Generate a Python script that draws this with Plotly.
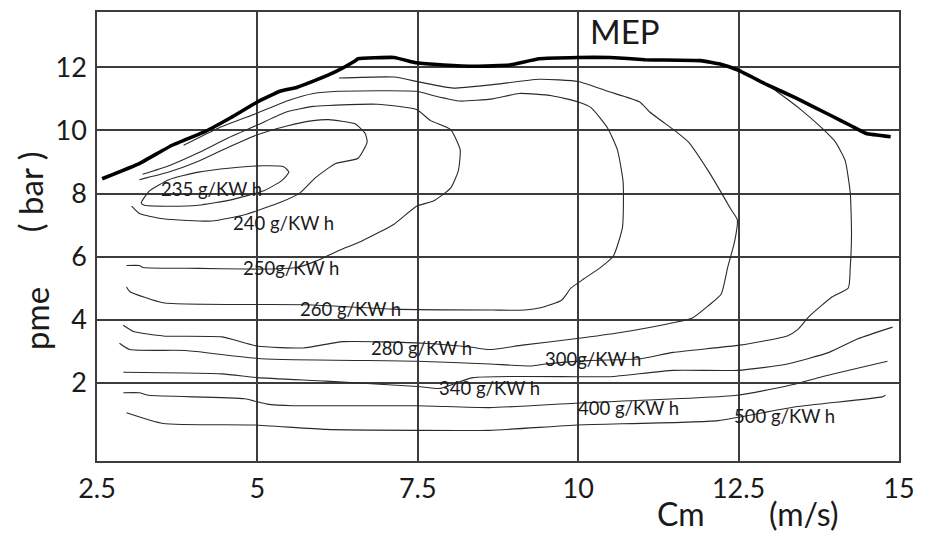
import plotly.graph_objects as go

# ---------------- data ----------------
mep_x = [2.58, 3.16, 3.67, 4.19, 4.59, 5.0, 5.35, 5.61, 5.91, 6.22, 6.52, 6.57, 7.13, 7.48, 7.90,
         8.40, 8.93, 9.39, 10.0, 10.5, 11.04, 11.91, 12.21, 12.5, 12.94, 13.39, 13.93, 14.26, 14.49, 14.87]
mep_y = [8.47, 8.95, 9.53, 9.97, 10.41, 10.90, 11.24, 11.36, 11.59, 11.86, 12.20, 12.27, 12.31, 12.14, 12.07,
         12.03, 12.07, 12.27, 12.31, 12.31, 12.24, 12.21, 12.10, 11.90, 11.45, 11.03, 10.48, 10.14, 9.90, 9.80]

c235_x = [3.19, 3.31, 3.62, 4.08, 4.59, 5.08, 5.41, 5.49, 5.38, 5.11, 4.59, 4.08, 3.57, 3.24, 3.19]
c235_y = [7.70, 8.07, 8.44, 8.68, 8.81, 8.88, 8.85, 8.68, 8.41, 8.10, 7.80, 7.63, 7.60, 7.63, 7.70]

c240_x = [3.16, 3.62, 4.08, 4.54, 5.0, 5.46, 5.87, 6.11, 6.52, 6.68, 6.71, 6.57, 6.22, 5.91, 5.67,
          5.37, 4.80, 4.29, 3.53, 3.16, 3.04]
c240_y = [8.44, 8.68, 9.02, 9.46, 9.86, 10.14, 10.31, 10.34, 10.21, 9.90, 9.63, 9.12, 8.95, 8.51, 8.03,
          7.73, 7.33, 7.13, 7.20, 7.37, 7.60]

c250_x = [3.21, 3.62, 4.08, 4.54, 5.0, 5.46, 5.87, 6.11, 6.87, 7.48, 7.70, 8.01, 8.16, 8.13, 8.01,
          7.75, 7.48, 7.13, 6.63, 6.27, 5.91, 5.61, 5.15, 4.80, 4.08, 3.22, 3.16, 2.96]
c250_y = [8.61, 8.88, 9.29, 9.76, 10.17, 10.59, 10.76, 10.79, 10.83, 10.66, 10.31, 10.03, 9.39, 8.71, 8.17,
          7.77, 7.60, 7.03, 6.50, 6.20, 5.86, 5.66, 5.61, 5.61, 5.63, 5.66, 5.72, 5.72]

c260_x = [3.85, 4.39, 5.0, 5.46, 5.87, 6.27, 7.48, 7.75, 8.16, 8.67, 9.08, 9.59, 10.0, 10.2, 10.46,
          10.61, 10.70, 10.69, 10.55, 10.35, 10.09, 9.89, 9.74, 9.43, 9.17, 8.67, 7.13, 5.76, 3.53, 3.01, 2.96]
c260_y = [9.53, 10.07, 10.55, 10.93, 11.17, 11.24, 11.24, 11.10, 10.93, 11.0, 11.17, 11.10, 10.90, 10.72, 10.07,
          9.39, 8.37, 6.93, 6.03, 5.66, 5.30, 5.01, 4.62, 4.39, 4.31, 4.31, 4.34, 4.48, 4.54, 4.90, 5.04]

c280_x = [6.27, 7.13, 7.55, 8.05, 8.67, 9.39, 10.0, 10.46, 10.96, 11.11, 11.52, 11.72, 12.03, 12.23, 12.38,
          12.48, 12.44, 12.33, 12.23, 12.03, 11.78, 11.48, 10.66, 9.95, 9.13, 8.62, 8.31, 7.59, 6.33, 5.72,
          5.0, 4.45, 3.53, 3.07, 2.91]
c280_y = [11.66, 11.69, 11.52, 11.34, 11.45, 11.62, 11.55, 11.24, 10.90, 10.59, 9.97, 9.63, 8.71, 8.03, 7.50,
          7.17, 6.50, 5.66, 4.82, 4.45, 4.06, 3.91, 3.60, 3.40, 3.20, 3.06, 3.14, 3.26, 3.31, 3.11,
          3.17, 3.46, 3.49, 3.63, 3.83]

c300_x = [12.89, 13.09, 13.47, 13.80, 14.01, 14.16, 14.24, 14.26, 14.24, 14.21, 13.96, 13.60, 13.42, 13.26,
          12.52, 11.48, 10.96, 10.15, 9.49, 9.28, 8.62, 7.5, 5.06, 3.88, 3.01, 2.85]
c300_y = [11.52, 11.24, 10.66, 10.07, 9.63, 9.05, 8.03, 6.70, 5.66, 5.01, 4.73, 4.11, 3.69, 3.49,
          3.20, 2.97, 2.77, 2.71, 2.60, 2.54, 2.60, 2.69, 2.77, 3.03, 3.06, 3.26]

c340_x = [2.91, 4.45, 5.0, 6.07, 7.5, 7.85, 8.36, 10.0, 10.5, 11.48, 12.49, 13.26, 13.91, 14.36, 14.90]
c340_y = [2.34, 2.29, 2.17, 2.06, 1.89, 1.83, 2.17, 2.20, 2.20, 2.40, 2.40, 2.60, 2.97, 3.40, 3.77]

c400_x = [2.91, 3.16, 3.31, 4.80, 5.15, 5.56, 7.5, 8.62, 9.95, 12.48, 13.39, 13.80, 14.82]
c400_y = [1.69, 1.69, 1.61, 1.50, 1.33, 1.28, 1.28, 1.22, 1.36, 1.61, 1.97, 2.20, 2.69]

c500_x = [2.96, 3.53, 4.95, 6.07, 7.5, 8.62, 10.0, 12.18, 13.39, 14.74, 14.79]
c500_y = [1.06, 0.72, 0.67, 0.53, 0.50, 0.50, 0.67, 0.81, 1.25, 1.56, 1.61]

label_text = ["235 g/KW h", "240 g/KW h", "250g/KW h", "260 g/KW h", "280 g/KW h",
              "300g/KW h", "340 g/KW h", "400 g/KW h", "500 g/KW h"]
label_x = [4.29, 5.41, 5.53, 6.45, 7.55, 10.23, 8.62, 10.78, 13.21]
label_y = [8.14, 7.07, 5.63, 4.34, 3.11, 2.77, 1.83, 1.22, 0.94]

x_ticks = [2.5, 5, 7.5, 10, 12.5, 15]
x_tick_text = ["2.5", "5", "7.5", "10", "12.5", "15"]
y_ticks = [2, 4, 6, 8, 10, 12]
y_tick_text = ["2", "4", "6", "8", "10", "12"]

# ---------------- figure ----------------
FONT = "Lato, 'Open Sans', sans-serif"
TXT = "#1a1a1a"
GRID = "#3c3c3c"

fig = go.Figure()

contours = [(c235_x, c235_y), (c240_x, c240_y), (c250_x, c250_y), (c260_x, c260_y),
            (c280_x, c280_y), (c300_x, c300_y), (c340_x, c340_y), (c400_x, c400_y),
            (c500_x, c500_y)]
for cx, cy in contours:
    fig.add_trace(go.Scatter(x=cx, y=cy, mode="lines",
                             line=dict(color="#2a2a2a", width=1.1, shape="spline", smoothing=0.5),
                             hoverinfo="skip", showlegend=False))

fig.add_trace(go.Scatter(x=mep_x, y=mep_y, mode="lines",
                         line=dict(color="#000000", width=3.6, shape="spline", smoothing=0.3),
                         hoverinfo="skip", showlegend=False))

for t, lx, ly in zip(label_text, label_x, label_y):
    fig.add_annotation(x=lx, y=ly, text=t, showarrow=False,
                       font=dict(family=FONT, size=18.5, color=TXT),
                       xanchor="center", yanchor="middle")

fig.add_annotation(x=10.73, y=13.14, text="MEP", showarrow=False,
                   font=dict(family=FONT, size=33, color=TXT),
                   xanchor="center", yanchor="middle")

# axis titles (placed as annotations to mimic the original layout)
fig.add_annotation(xref="paper", yref="paper", x=0.728, y=-0.118, text="Cm",
                   showarrow=False, font=dict(family=FONT, size=32, color=TXT),
                   xanchor="center", yanchor="middle")
fig.add_annotation(xref="paper", yref="paper", x=0.882, y=-0.118, text="(m/s)",
                   showarrow=False, font=dict(family=FONT, size=32, color=TXT),
                   xanchor="center", yanchor="middle")
fig.add_annotation(xref="paper", yref="paper", x=-0.077, y=0.317, text="pme",
                   textangle=-90, showarrow=False, font=dict(family=FONT, size=33, color=TXT),
                   xanchor="center", yanchor="middle")
fig.add_annotation(xref="paper", yref="paper", x=-0.084, y=0.60, text="( bar )",
                   textangle=-90, showarrow=False, font=dict(family=FONT, size=33, color=TXT),
                   xanchor="center", yanchor="middle")

fig.update_xaxes(range=[2.5, 15], tickvals=x_ticks, ticktext=x_tick_text,
                 showgrid=True, gridcolor=GRID, gridwidth=1.6,
                 showline=True, linecolor=GRID, linewidth=1.6, mirror=True,
                 zeroline=False, ticks="", ticklabelstandoff=3,
                 tickfont=dict(family=FONT, size=27, color=TXT))
fig.update_yaxes(range=[-0.47, 13.75], tickvals=y_ticks, ticktext=y_tick_text,
                 showgrid=True, gridcolor=GRID, gridwidth=1.6,
                 showline=True, linecolor=GRID, linewidth=1.6, mirror=True,
                 zeroline=False, ticks="", ticklabelstandoff=3,
                 tickfont=dict(family=FONT, size=27, color=TXT))

fig.update_layout(width=925, height=537,
                  margin=dict(l=97, r=17, t=10, b=76),
                  paper_bgcolor="white", plot_bgcolor="white",
                  showlegend=False)

fig.write_html("out.html")
